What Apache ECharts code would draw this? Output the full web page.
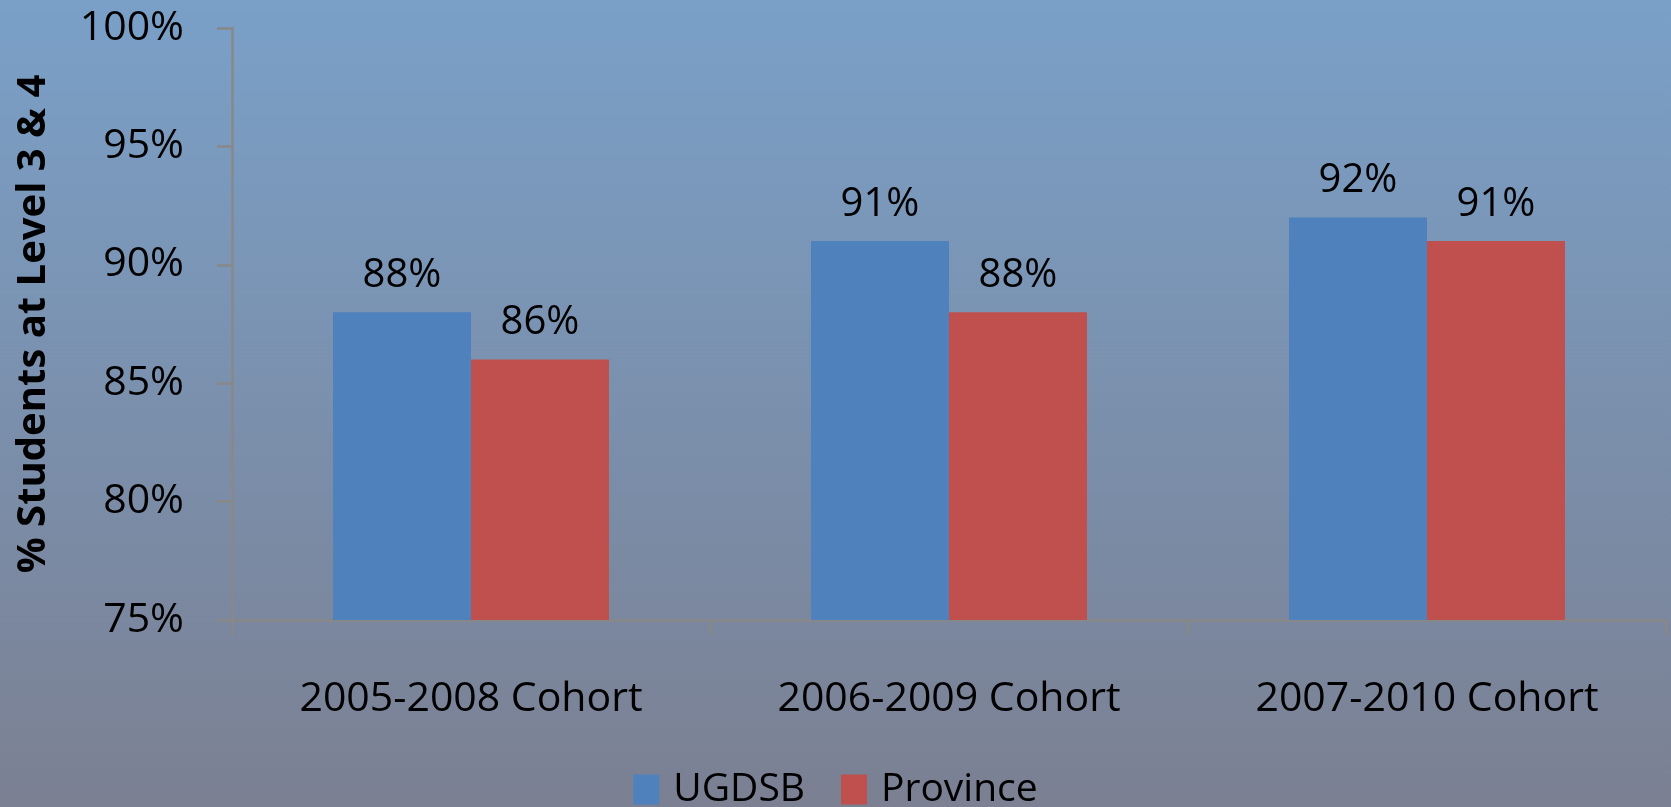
<!DOCTYPE html>
<html>
<head>
<meta charset="utf-8">
<script src="https://cdn.jsdelivr.net/npm/echarts@6/dist/echarts.min.js"></script>
<style>
  html, body { margin: 0; padding: 0; }
  #main { width: 1671px; height: 807px; }
</style>
</head>
<body>
<div id="main"></div>
<script>
var categories = ['2005-2008 Cohort', '2006-2009 Cohort', '2007-2010 Cohort'];
var ugdsb = [88, 91, 92];
var province = [86, 88, 91];
var seriesNames = ['UGDSB', 'Province'];

var myChart = echarts.init(document.getElementById('main'));
var font = '"Open Sans", "Noto Sans", sans-serif';
var option = {
    animation: false,
    backgroundColor: {
        type: 'linear', x: 0, y: 0, x2: 0, y2: 1,
        colorStops: [
            { offset: 0, color: '#7aa0c8' },
            { offset: 1, color: '#7b8092' }
        ]
    },
    textStyle: { fontFamily: font, color: '#000' },
    grid: {
        left: 232,
        right: 5,
        top: 28,
        bottom: 187
    },
    legend: {
        data: seriesNames,
        left: 'center',
        top: 765,
        itemWidth: 26,
        itemHeight: 30,
        itemGap: 36,
        icon: 'rect',
        textStyle: {
            fontFamily: font,
            fontSize: 39,
            color: '#000',
            padding: [0, 0, 0, 9]
        }
    },
    xAxis: {
        type: 'category',
        data: categories,
        axisLine: { lineStyle: { color: '#888', width: 2.5 } },
        axisTick: { show: true, length: 15, alignWithLabel: false, lineStyle: { color: '#888', width: 2.5 } },
        axisLabel: {
            margin: 59,
            fontSize: 41,
            color: '#000',
            fontFamily: font
        }
    },
    yAxis: {
        type: 'value',
        min: 75,
        max: 100,
        interval: 5,
        name: '% Students at Level 3 & 4',
        nameLocation: 'middle',
        nameGap: 178,
        nameTextStyle: {
            fontSize: 40,
            fontWeight: 'bold',
            color: '#000',
            fontFamily: font
        },
        splitLine: { show: false },
        axisLine: { show: true, lineStyle: { color: '#888', width: 2.5 } },
        axisTick: { show: true, length: 15, lineStyle: { color: '#888', width: 2.5 } },
        axisLabel: {
            margin: 48,
            fontSize: 41,
            color: '#000',
            fontFamily: font,
            formatter: '{value}%'
        }
    },
    series: [
        {
            name: seriesNames[0],
            type: 'bar',
            data: ugdsb,
            barWidth: 138,
            barGap: '0%',
            itemStyle: { color: '#4f81bd' },
            label: {
                show: true,
                position: 'top',
                distance: 17,
                formatter: '{c}%',
                fontSize: 40,
                color: '#000',
                fontFamily: font
            }
        },
        {
            name: seriesNames[1],
            type: 'bar',
            data: province,
            barWidth: 138,
            barGap: '0%',
            itemStyle: { color: '#c0504d' },
            label: {
                show: true,
                position: 'top',
                distance: 17,
                formatter: '{c}%',
                fontSize: 40,
                color: '#000',
                fontFamily: font
            }
        }
    ]
};
myChart.setOption(option);
</script>
</body>
</html>
